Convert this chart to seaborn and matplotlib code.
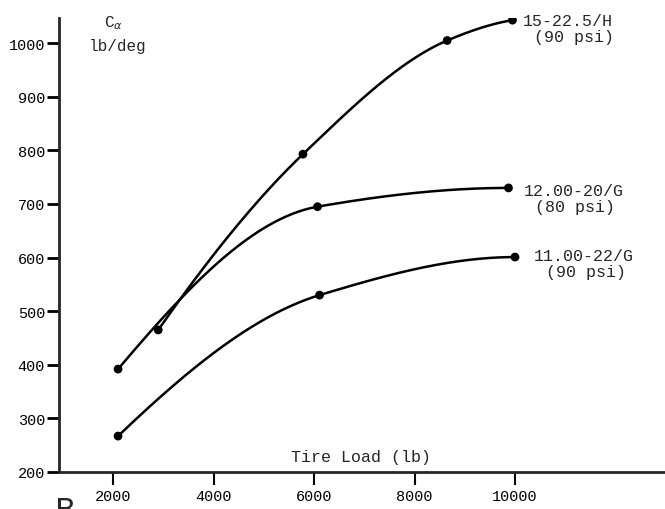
import numpy as np
import pandas as pd
import matplotlib
matplotlib.use("Agg")
import matplotlib.pyplot as plt
import seaborn as sns

# ---- data ----
tire_h_load = [2900, 5780, 8650, 9950]
tire_h_calpha = [465, 793, 1005, 1043]
tire_g80_load = [2100, 6070, 9870]
tire_g80_calpha = [392, 695, 730]
tire_g90_load = [2100, 6110, 10000]
tire_g90_calpha = [267, 530, 601]

series_names = ["15-22.5/H", "12.00-20/G", "11.00-22/G"]
series_psi = ["(90 psi)", "(80 psi)", "(90 psi)"]
x_ticks = [2000, 4000, 6000, 8000, 10000]
y_ticks = [200, 300, 400, 500, 600, 700, 800, 900, 1000]


def pchip(x, y, n=200):
    """Monotone cubic curve through the given points (for the smooth drawn line)."""
    x = np.asarray(x, float)
    y = np.asarray(y, float)
    h = np.diff(x)
    delta = np.diff(y) / h
    m = len(x)
    d = np.zeros(m)
    for k in range(1, m - 1):
        if delta[k - 1] * delta[k] > 0:
            w1 = 2 * h[k] + h[k - 1]
            w2 = h[k] + 2 * h[k - 1]
            d[k] = (w1 + w2) / (w1 / delta[k - 1] + w2 / delta[k])
    def end(h0, h1, d0, d1):
        v = ((2 * h0 + h1) * d0 - h0 * d1) / (h0 + h1)
        if np.sign(v) != np.sign(d0):
            v = 0
        elif np.sign(d0) != np.sign(d1) and abs(v) > abs(3 * d0):
            v = 3 * d0
        return v
    if m > 2:
        d[0] = end(h[0], h[1], delta[0], delta[1])
        d[-1] = end(h[-1], h[-2], delta[-1], delta[-2])
    else:
        d[:] = delta[0]
    xs = np.linspace(x[0], x[-1], n)
    idx = np.clip(np.searchsorted(x, xs) - 1, 0, m - 2)
    t = (xs - x[idx]) / h[idx]
    h00 = 2 * t**3 - 3 * t**2 + 1
    h10 = t**3 - 2 * t**2 + t
    h01 = -2 * t**3 + 3 * t**2
    h11 = t**3 - t**2
    ys = h00 * y[idx] + h10 * h[idx] * d[idx] + h01 * y[idx + 1] + h11 * h[idx] * d[idx + 1]
    return xs, ys


sns.set_style("ticks")
plt.rcParams["font.family"] = ["Liberation Mono", "DejaVu Sans Mono", "DejaVu Sans"]
plt.rcParams["mathtext.fontset"] = "dejavusans"

fig = plt.figure(figsize=(6.65, 5.10), dpi=100)
W, H = 665, 510
ax = fig.add_axes([59 / W, (H - 473) / H, 1 - 59 / W, (473 - 19) / H])

pts = pd.DataFrame({
    "load": tire_h_load + tire_g80_load + tire_g90_load,
    "calpha": tire_h_calpha + tire_g80_calpha + tire_g90_calpha,
    "tire": [series_names[0]] * len(tire_h_load)
    + [series_names[1]] * len(tire_g80_load)
    + [series_names[2]] * len(tire_g90_load),
})

curves = []
for name, xs, ys in [(series_names[0], tire_h_load, tire_h_calpha),
                     (series_names[1], tire_g80_load, tire_g80_calpha),
                     (series_names[2], tire_g90_load, tire_g90_calpha)]:
    cx, cy = pchip(xs, ys)
    curves.append(pd.DataFrame({"load": cx, "calpha": cy, "tire": name}))
curves = pd.concat(curves, ignore_index=True)

palette = {n: "black" for n in series_names}
sns.lineplot(data=curves, x="load", y="calpha", hue="tire", palette=palette,
             linewidth=1.8, legend=False, ax=ax, sort=False, estimator=None)
sns.scatterplot(data=pts, x="load", y="calpha", hue="tire", palette=palette,
                s=40, edgecolor="black", linewidth=0, legend=False, ax=ax, zorder=5)

ax.set_xlim(925, 12985)
ax.set_ylim(200, 1047)
ax.set_xticks(x_ticks)
ax.set_yticks(y_ticks)
ax.set_xticklabels([str(v) for v in x_ticks], fontsize=11)
ax.set_yticklabels([str(v) for v in y_ticks], fontsize=11)
ax.set_xlabel("")
ax.set_ylabel("")
for s in ["top", "right"]:
    ax.spines[s].set_visible(False)
ax.spines["left"].set_linewidth(2.0)
ax.spines["bottom"].set_linewidth(2.0)
ax.tick_params(axis="y", direction="out", length=9, width=2.0, pad=1, colors="black")
ax.tick_params(axis="x", direction="out", length=9, width=1.5, pad=3, colors="black")

# end labels (two lines each, placed relative to the last point)
ends = [(tire_h_load[-1], tire_h_calpha[-1]),
        (tire_g80_load[-1], tire_g80_calpha[-1]),
        (tire_g90_load[-1], tire_g90_calpha[-1])]
first_off = [(10, 0), (15, -3), (19, 2)]
for name, psi, (lx, ly), (dx, dy) in zip(series_names, series_psi, ends, first_off):
    ax.annotate(name, xy=(lx, ly), xytext=(dx, dy), textcoords="offset pixels",
                ha="left", va="center", fontsize=12, annotation_clip=False)
    ax.annotate(psi, xy=(lx, ly), xytext=(dx + 12, dy - 16), textcoords="offset pixels",
                ha="left", va="center", fontsize=12, annotation_clip=False)

fig.text(113 / W, 1 - 23 / H, r"C$_{\alpha}$", ha="center", va="center", fontsize=11.5)
fig.text(118 / W, 1 - 47 / H, "lb/deg", ha="center", va="center", fontsize=11.5)
fig.text(361 / W, 1 - 458 / H, "Tire Load (lb)", ha="center", va="center", fontsize=12)
fig.text(55 / W, 1 - 497 / H, "B", ha="left", va="top", fontsize=22,
         family="DejaVu Sans")

fig.savefig("out.png", dpi=100, facecolor="white")
